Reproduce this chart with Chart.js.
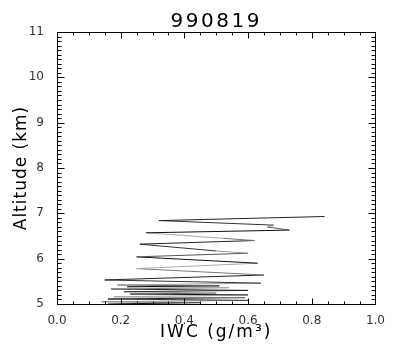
<!DOCTYPE html>
<html>
<head>
<meta charset="utf-8">
<script src="https://cdn.jsdelivr.net/npm/chart.js@4"></script>
<style>
  html, body { margin: 0; padding: 0; background: #fff; }
  #wrap { width: 395px; height: 356px; }
</style>
</head>
<body>
<div id="wrap"><canvas id="c" width="395" height="356"></canvas></div>
<script>
// ---- data ----
const chartTitle = '990819';
const xTitle = 'IWC (g/m³)';
const yTitle = 'Altitude (km)';
const xTickValues = [0.0, 0.2, 0.4, 0.6, 0.8, 1.0];
const yTickValues = [5, 6, 7, 8, 9, 10, 11];
const altitude = [5.00, 5.03, 5.05, 5.08, 5.11, 5.14, 5.16, 5.20, 5.22, 5.24, 5.27, 5.30, 5.33, 5.36, 5.38, 5.40,
                  5.42, 5.46, 5.53, 5.64, 5.78, 5.90, 6.04, 6.12, 6.17, 6.32, 6.40, 6.45, 6.57, 6.63, 6.70, 6.74,
                  6.84, 6.93];
const iwc =      [0.16, 0.45, 0.14, 0.60, 0.16, 0.59, 0.18, 0.60, 0.23, 0.50, 0.21, 0.60, 0.17, 0.54, 0.22, 0.51,
                  0.19, 0.64, 0.15, 0.65, 0.25, 0.63, 0.25, 0.60, 0.50, 0.26, 0.62, 0.52, 0.28, 0.73, 0.66, 0.68,
                  0.32, 0.84];

const points = iwc.map((v, i) => ({ x: v, y: altitude[i] }));

// frame + inward minor/major ticks on all four sides, positioned via the scales
const framePlugin = {
  id: 'idlFrame',
  afterDraw(chart) {
    const { ctx, chartArea: a, scales: { x, y } } = chart;
    ctx.save();
    ctx.strokeStyle = '#000';
    ctx.lineWidth = 1;
    const L = Math.round(a.left) + 0.5, R = Math.round(a.right) + 0.5;
    const T = Math.round(a.top) + 0.5, B = Math.round(a.bottom) + 0.5;
    ctx.strokeRect(L, T, R - L, B - T);
    ctx.beginPath();
    const xMinor = 4, yMinor = 10;
    for (let i = 0; i < xTickValues.length; i++) {
      const v0 = xTickValues[i];
      const last = i === xTickValues.length - 1;
      for (let k = 0; k < (last ? 1 : xMinor); k++) {
        const v = last ? v0 : v0 + (xTickValues[i + 1] - v0) * k / xMinor;
        const px = Math.round(x.getPixelForValue(v)) + 0.5;
        const len = k === 0 ? 6 : 3;
        ctx.moveTo(px, B); ctx.lineTo(px, B - len);
        ctx.moveTo(px, T); ctx.lineTo(px, T + len);
      }
    }
    for (let i = 0; i < yTickValues.length; i++) {
      const v0 = yTickValues[i];
      const last = i === yTickValues.length - 1;
      for (let k = 0; k < (last ? 1 : yMinor); k++) {
        const v = last ? v0 : v0 + (yTickValues[i + 1] - v0) * k / yMinor;
        const py = Math.round(y.getPixelForValue(v)) + 0.5;
        const len = k === 0 ? 7 : 4;
        ctx.moveTo(L, py); ctx.lineTo(L + len, py);
        ctx.moveTo(R, py); ctx.lineTo(R - len, py);
      }
    }
    ctx.stroke();
    ctx.restore();
  }
};

// wider letter spacing for the titles (the reference uses a wide vector font)
function spaced(obj, name, spacing) {
  if (!obj || obj['_sp_' + name]) return;
  const orig = obj[name];
  obj[name] = function (...args) {
    const ctx = this.ctx;
    ctx.save();
    ctx.letterSpacing = spacing;
    const r = orig.apply(this, args);
    ctx.restore();
    return r;
  };
  obj['_sp_' + name] = true;
}
const spacingPlugin = {
  id: 'spacing',
  beforeDraw(chart) {
    spaced(chart.titleBlock, 'draw', '2.5px');
    spaced(chart.scales.x, 'drawTitle', '2px');
    spaced(chart.scales.y, 'drawTitle', '1px');
  }
};

const segShades = ['#111', '#555', '#999', '#333', '#222', '#777', '#aaa'];

new Chart(document.getElementById('c'), {
  type: 'scatter',
  data: {
    datasets: [{
      data: points,
      showLine: true,
      pointRadius: 0,
      borderWidth: 1,
      borderColor: '#333',
      segment: { borderColor: c => segShades[c.p0DataIndex % segShades.length] },
      tension: 0
    }]
  },
  plugins: [framePlugin, spacingPlugin],
  options: {
    responsive: false,
    animation: false,
    devicePixelRatio: 1,
    layout: { padding: { left: 0, right: 14, top: 0, bottom: 0 } },
    plugins: {
      legend: { display: false },
      tooltip: { enabled: false },
      title: {
        display: true,
        text: chartTitle,
        fullSize: false,
        color: '#000',
        font: { family: 'DejaVu Sans', size: 20, weight: 'normal', lineHeight: 1 },
        padding: { top: 11.5, bottom: 0.5 }
      }
    },
    scales: {
      x: {
        type: 'linear',
        min: 0, max: 1,
        afterBuildTicks: s => { s.ticks = xTickValues.map(v => ({ value: v })); },
        afterFit: s => { s.height = 52; },
        grid: { display: false, drawTicks: false },
        border: { display: false },
        ticks: {
          color: '#333',
          font: { family: 'DejaVu Sans', size: 12 },
          padding: 10,
          maxRotation: 0,
          callback: v => Number(v).toFixed(1)
        },
        title: {
          display: true,
          text: xTitle,
          color: '#000',
          font: { family: 'DejaVu Sans', size: 17, weight: 'normal' },
          padding: { top: 0, bottom: 12.8 }
        }
      },
      y: {
        type: 'linear',
        min: 5, max: 11,
        afterBuildTicks: s => { s.ticks = yTickValues.map(v => ({ value: v })); },
        afterFit: s => { s.width = 57; },
        grid: { display: false, drawTicks: false },
        border: { display: false },
        ticks: {
          color: '#333',
          font: { family: 'DejaVu Sans', size: 12 },
          padding: 13,
          callback: v => String(v)
        },
        title: {
          display: true,
          text: yTitle,
          color: '#000',
          font: { family: 'DejaVu Sans', size: 17, weight: 'normal' },
          padding: { top: 11.8, bottom: 0 }
        }
      }
    }
  }
});
</script>
</body>
</html>
